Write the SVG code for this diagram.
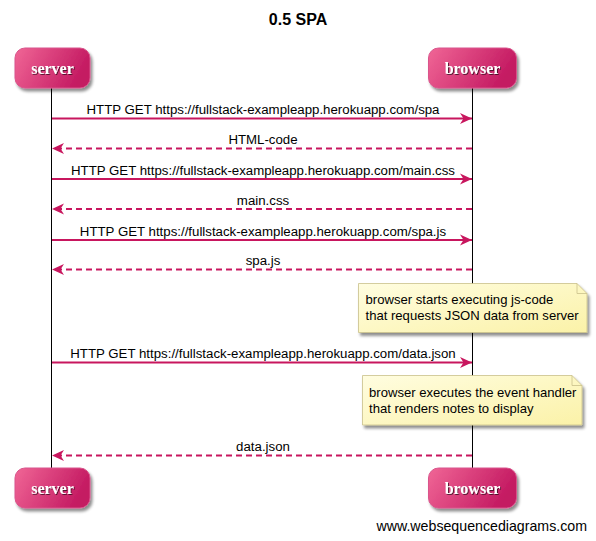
<svg xmlns="http://www.w3.org/2000/svg" width="596" height="541" viewBox="0 0 596 541">
<defs>
<linearGradient id="boxg" x1="0" y1="0" x2="1" y2="0.3">
<stop offset="0" stop-color="#f06696"/>
<stop offset="1" stop-color="#c41a62"/>
</linearGradient>
<linearGradient id="noteg" x1="0" y1="0" x2="1" y2="1">
<stop offset="0" stop-color="#fffde0"/>
<stop offset="1" stop-color="#fbf2a8"/>
</linearGradient>
<filter id="sh" x="-20%" y="-20%" width="150%" height="160%">
<feGaussianBlur in="SourceAlpha" stdDeviation="1.5"/>
<feOffset dx="2" dy="3" result="b"/>
<feComponentTransfer><feFuncA type="linear" slope="0.45"/></feComponentTransfer>
<feMerge><feMergeNode/><feMergeNode in="SourceGraphic"/></feMerge>
</filter>
<filter id="tsh" x="-10%" y="-10%" width="130%" height="140%">
<feGaussianBlur in="SourceAlpha" stdDeviation="0.6"/>
<feOffset dx="1" dy="1.2"/>
<feComponentTransfer><feFuncA type="linear" slope="0.6"/></feComponentTransfer>
<feMerge><feMergeNode/><feMergeNode in="SourceGraphic"/></feMerge>
</filter>
<marker id="ah" markerUnits="userSpaceOnUse" markerWidth="14" markerHeight="12" refX="12" refY="6" orient="auto">
<path d="M0,0.5 L12,6 L0,11.5 L3.5,6 Z" fill="#c8165e"/>
</marker>
</defs>
<style>
.box{fill:url(#boxg);stroke:#d9558c;stroke-width:1;filter:url(#sh)}
.bt{font-family:"Liberation Serif",serif;font-weight:bold;font-size:16px;fill:#fff;text-anchor:middle;filter:url(#tsh)}
.life{stroke:#000;stroke-width:1}
.msg{stroke:#c8165e;stroke-width:2;fill:none;marker-end:url(#ah)}
.dash{stroke-dasharray:6,4}
.ml{font-family:"Liberation Sans",Arial,sans-serif;font-size:13.25px;fill:#000;text-anchor:middle}
.note{fill:url(#noteg);stroke:#c9c08a;stroke-width:0.8;filter:url(#sh)}
.nt{font-family:"Liberation Sans",Arial,sans-serif;font-size:13.1px;fill:#000}
</style>
<rect width="596" height="541" fill="#fff"/>
<text x="298" y="25" font-family="Liberation Sans,Arial,sans-serif" font-weight="bold" font-size="16" text-anchor="middle">0.5 SPA</text>
<g id="lifelines">
<line class="life" x1="51.5" y1="88" x2="51.5" y2="468"/>
<line class="life" x1="472.5" y1="88" x2="472.5" y2="468"/>
</g>
<g id="server-top"><rect class="box" x="15" y="48" width="75" height="40" rx="10"/><text class="bt" x="52.5" y="74">server</text></g>
<g id="browser-top"><rect class="box" x="428.5" y="48" width="88" height="40" rx="10"/><text class="bt" x="472.5" y="74">browser</text></g>
<g id="server-bottom"><rect class="box" x="15" y="468" width="75" height="40" rx="10"/><text class="bt" x="52.5" y="494">server</text></g>
<g id="browser-bottom"><rect class="box" x="428.5" y="468" width="88" height="40" rx="10"/><text class="bt" x="472.5" y="494">browser</text></g>
<g id="connectors">
<line class="msg" x1="52" y1="118.5" x2="472" y2="118.5"/>
<text class="ml" x="263" y="114">HTTP GET https://fullstack-exampleapp.herokuapp.com/spa</text>
<line class="msg dash" x1="472" y1="148.5" x2="52" y2="148.5"/>
<text class="ml" x="263" y="144">HTML-code</text>
<line class="msg" x1="52" y1="179" x2="472" y2="179"/>
<text class="ml" x="263" y="174.5">HTTP GET https://fullstack-exampleapp.herokuapp.com/main.css</text>
<line class="msg dash" x1="472" y1="209" x2="52" y2="209"/>
<text class="ml" x="263" y="204.5">main.css</text>
<line class="msg" x1="52" y1="240" x2="472" y2="240"/>
<text class="ml" x="263" y="235.5">HTTP GET https://fullstack-exampleapp.herokuapp.com/spa.js</text>
<line class="msg dash" x1="472" y1="269.5" x2="52" y2="269.5"/>
<text class="ml" x="263" y="265">spa.js</text>
<line class="msg" x1="52" y1="362.5" x2="472" y2="362.5"/>
<text class="ml" x="263" y="358">HTTP GET https://fullstack-exampleapp.herokuapp.com/data.json</text>
<line class="msg dash" x1="472" y1="455.5" x2="52" y2="455.5"/>
<text class="ml" x="263" y="451">data.json</text>
</g>
<g id="note1">
<path class="note" d="M358.5,283.5 H577 L587,293.5 V332.5 H358.5 Z"/>
<path d="M577,283.5 V293.5 H587" fill="none" stroke="#c9c08a" stroke-width="0.8"/>
<text class="nt" x="365.5" y="304">browser starts executing js-code</text>
<text class="nt" x="365.5" y="320">that requests JSON data from server</text>
</g>
<g id="note2">
<path class="note" d="M362.5,375.5 H572 L582,385.5 V425 H362.5 Z"/>
<path d="M572,375.5 V385.5 H582" fill="none" stroke="#c9c08a" stroke-width="0.8"/>
<text class="nt" x="369" y="397">browser executes the event handler</text>
<text class="nt" x="369" y="413">that renders notes to display</text>
</g>
<text x="587" y="531" font-family="Liberation Sans,Arial,sans-serif" font-size="14.2" text-anchor="end">www.websequencediagrams.com</text>
</svg>
